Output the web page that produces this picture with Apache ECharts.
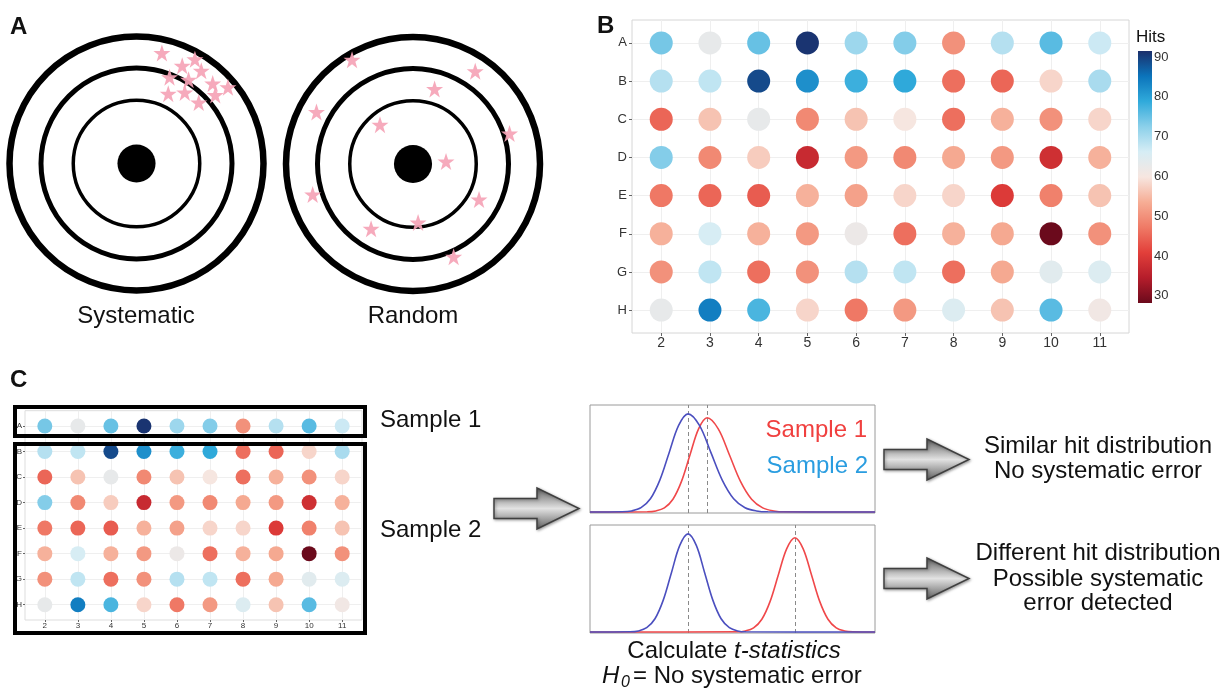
<!DOCTYPE html>
<html><head><meta charset="utf-8">
<script src="https://cdn.jsdelivr.net/npm/echarts@6/dist/echarts.min.js"></script>
<style>html,body{margin:0;padding:0;background:#fff}#c{width:1223px;height:691px}</style>
</head><body><div id="c"></div>
<script>
// ---------- DATA ----------
const plateRows = ['A','B','C','D','E','F','G','H'];
const plateCols = [2,3,4,5,6,7,8,9,10,11];
const hitsA = [74,63,75,91,71,73,50,69,76,67];
const hitsB = [69,68,89,82,78,79,46,45,58,70];
const hitsC = [45,56,63,49,56,60,46,54,50,58];
const hitsD = [73,49,57,37,51,49,53,51,38,54];
const hitsE = [47,45,44,54,52,58,58,40,48,56];
const hitsF = [54,66,54,51,62,46,54,53,28.2,50];
const hitsG = [50,68,46,50,69,68,46,53,64,65];
const hitsH = [63,84,77,58,47,51,65,56,76,61];
const colorbarTicks = [30,40,50,60,70,80,90];
const hitsMin = 28.2, hitsMax = 91.5;
const hitColors = ['#6b0a1c','#b51d2b','#e23f3a','#ef7a66','#f6ad95','#f7e6e0','#d6edf5','#8bd0ea','#30aadb','#0b74bb','#1b2f6b'];

// target (relative units: outer ring = 1)
const ringRadii = [1.0, 0.752, 0.498];
const bullseyeRadius = 0.15;
const systematicStars = [[0.20,0.87],[0.46,0.82],[0.36,0.77],[0.51,0.73],[0.26,0.68],[0.41,0.66],[0.60,0.63],[0.72,0.60],[0.25,0.55],[0.38,0.56],[0.62,0.54],[0.49,0.48]];
const randomStars = [[-0.48,0.82],[0.49,0.73],[0.17,0.59],[-0.76,0.41],[-0.26,0.31],[0.76,0.24],[0.26,0.02],[-0.79,-0.24],[0.52,-0.28],[0.04,-0.46],[-0.33,-0.51],[0.32,-0.73]];

// distribution curves (x: 0-100 across panel, y: density)
const topSample2 = [[0,0],[11.3,0.002],[14.6,0.011],[17.9,0.044],[21.2,0.135],[24.5,0.325],[27.8,0.607],[31.1,0.882],[34.4,1.0],[38.4,0.882],[42.4,0.607],[46.4,0.325],[50.4,0.135],[54.4,0.044],[58.4,0.011],[62.4,0.002],[100,0]];
const topSample1 = [[0,0],[20.1,0.002],[23.1,0.011],[26.1,0.042],[29.1,0.130],[32.1,0.312],[35.1,0.583],[38.1,0.847],[41.1,0.96],[45.0,0.847],[48.9,0.583],[52.8,0.312],[56.7,0.130],[60.6,0.042],[64.5,0.011],[68.4,0.002],[100,0]];
const bottomSample2 = [[0,0],[14.1,0.002],[17.0,0.011],[19.9,0.044],[22.8,0.135],[25.7,0.325],[28.6,0.607],[31.5,0.882],[34.4,1.0],[37.3,0.882],[40.2,0.607],[43.1,0.325],[46.0,0.135],[48.9,0.044],[51.8,0.011],[54.7,0.002],[100,0]];
const bottomSample1 = [[0,0],[51.6,0.002],[54.5,0.011],[57.4,0.042],[60.3,0.130],[63.2,0.312],[66.1,0.583],[69.0,0.847],[71.9,0.96],[74.8,0.847],[77.7,0.583],[80.6,0.312],[83.5,0.130],[86.4,0.042],[89.3,0.011],[92.2,0.002],[100,0]];
const topPeaks = [41.1, 34.4];
const bottomPeaks = [71.9, 34.4];

// ---------- BUILD ----------
const FONT = '"Liberation Sans", Arial, Helvetica, sans-serif';
const hitsRows = [hitsA,hitsB,hitsC,hitsD,hitsE,hitsF,hitsG,hitsH];
const plateData = [];
hitsRows.forEach((row, r) => row.forEach((v, c) => plateData.push([plateCols[c], r, v])));
const rowIdx = plateRows.map((_, i) => i);

const chart = echarts.init(document.getElementById('c'), null, {renderer: 'canvas'});

const ringWidths = [6.5, 5, 3.5];
function ringRender(params, api) {
  const c = api.coord([0, 0]);
  const e = api.coord([api.value(0), 0]);
  const r = e[0] - c[0];
  const isDot = api.value(1) === 1;
  return {
    type: 'circle',
    shape: {cx: c[0], cy: c[1], r: r},
    style: isDot ? {fill: '#000', stroke: null} : {fill: 'none', stroke: '#000', lineWidth: ringWidths[params.dataIndex]}
  };
}
const ringData = ringRadii.map(r => [r, 0]).concat([[bullseyeRadius, 1]]);
const starPath = 'path://M50 2 L61.8 36.2 L97.6 36.2 L68.6 57.3 L79.4 91.5 L50 70.3 L20.6 91.5 L31.4 57.3 L2.4 36.2 L38.2 36.2 Z';

function plateXAxis(grid, fs, tl, mg) {
  return {gridIndex: grid, type: 'value', min: 1.4, max: 11.6,
    axisLine: {show: false, onZero: false}, splitLine: {show: false},
    axisTick: {show: true, length: tl, lineStyle: {color: '#666'}, customValues: plateCols},
    axisLabel: {customValues: plateCols, margin: mg, fontSize: fs, color: '#333', fontFamily: FONT}};
}
function plateYAxis(grid, fs, tl, mg) {
  return {gridIndex: grid, type: 'value', min: -0.6, max: 7.6, inverse: true,
    axisLine: {show: false, onZero: false}, splitLine: {show: false},
    axisTick: {show: true, length: tl, lineStyle: {color: '#666'}, customValues: rowIdx},
    axisLabel: {customValues: rowIdx, margin: mg, fontSize: fs, color: '#333', fontFamily: FONT,
      formatter: v => plateRows[Math.round(v)]}};
}
function gridLineSeries(ax) {
  return {type: 'scatter', xAxisIndex: ax, yAxisIndex: ax, data: plateData, symbolSize: 0, silent: true, z: 1,
    markLine: {silent: true, z: 1, symbol: ['none','none'], label: {show: false}, animation: false,
      lineStyle: {color: '#efefef', width: 1, type: 'solid'},
      data: plateCols.map(c => ({xAxis: c})).concat(rowIdx.map(r => ({yAxis: r})))}};
}
function curveSeries(ax, data, color, peak) {
  return {type: 'line', xAxisIndex: ax, yAxisIndex: ax, data: data, smooth: 0.35, showSymbol: false, silent: true,
    lineStyle: {color: color, width: 1.6}, z: 3,
    markLine: {silent: true, z: 2, symbol: ['none','none'], label: {show: false}, animation: false,
      lineStyle: {color: '#8a8a8a', width: 1, type: [4, 3]}, data: [{xAxis: peak}]}};
}

function arrowPoints(x0, yc) {
  const L = 85, hl = 42, hh = 20.5, sh = 10;
  return [[x0, yc - sh], [x0 + L - hl, yc - sh], [x0 + L - hl, yc - hh], [x0 + L, yc], [x0 + L - hl, yc + hh], [x0 + L - hl, yc + sh], [x0, yc + sh]];
}
function arrow(x0, yc) {
  return {type: 'polygon', z: 100, shape: {points: arrowPoints(x0, yc)},
    style: {fill: new echarts.graphic.LinearGradient(0, 0, 0, 1, [{offset: 0, color: '#5f5f5f'}, {offset: 0.5, color: '#e2e2e2'}, {offset: 1, color: '#5f5f5f'}]),
      stroke: '#3f3f3f', lineWidth: 1.5, shadowBlur: 3, shadowColor: 'rgba(0,0,0,0.35)', shadowOffsetX: 1, shadowOffsetY: 1}};
}
function txt(text, x, y, opts) {
  return Object.assign({type: 'text', z: 100, style: Object.assign({text: text, x: x, y: y, fill: '#111', font: '24px ' + FONT, align: 'center', verticalAlign: 'middle'}, opts || {})});
}

const option = {
  backgroundColor: '#fff',
  animation: false,
  grid: [
    {left: 3.15, top: 30.15, width: 266.7, height: 266.7},
    {left: 279.65, top: 30.65, width: 266.7, height: 266.7},
    {left: 632, top: 20, width: 497, height: 313, show: true, borderColor: '#d6d6d6', borderWidth: 1, backgroundColor: '#fff'},
    {left: 25, top: 410.7, width: 337, height: 209.3, show: true, borderColor: '#dddddd', borderWidth: 1, backgroundColor: '#fff'},
    {left: 590, top: 405, width: 285, height: 108, show: true, borderColor: '#9a9a9a', borderWidth: 1},
    {left: 590, top: 525, width: 285, height: 108, show: true, borderColor: '#9a9a9a', borderWidth: 1},
    {left: 1138, top: 51, width: 14, height: 252, show: true, borderWidth: 0,
      backgroundColor: new echarts.graphic.LinearGradient(0, 1, 0, 0, hitColors.map((c, i) => ({offset: i / (hitColors.length - 1), color: c})))}
  ],
  xAxis: [
    {gridIndex: 0, type: 'value', min: -1.05, max: 1.05, show: false},
    {gridIndex: 1, type: 'value', min: -1.05, max: 1.05, show: false},
    plateXAxis(2, 14, 3, 3),
    plateXAxis(3, 8, 2, 2),
    {gridIndex: 4, type: 'value', min: 0, max: 100, show: false},
    {gridIndex: 5, type: 'value', min: 0, max: 100, show: false},
    {gridIndex: 6, type: 'value', min: 0, max: 1, show: false}
  ],
  yAxis: [
    {gridIndex: 0, type: 'value', min: -1.05, max: 1.05, show: false},
    {gridIndex: 1, type: 'value', min: -1.05, max: 1.05, show: false},
    plateYAxis(2, 13, 3, 5),
    plateYAxis(3, 8, 2, 3),
    {gridIndex: 4, type: 'value', min: -0.01, max: 1.09, show: false},
    {gridIndex: 5, type: 'value', min: -0.01, max: 1.09, show: false},
    {gridIndex: 6, type: 'value', min: hitsMin, max: hitsMax, position: 'right',
      axisLine: {show: false}, splitLine: {show: false},
      axisTick: {show: true, inside: true, length: 3, lineStyle: {color: 'rgba(255,255,255,0.8)'}, customValues: colorbarTicks},
      axisLabel: {customValues: colorbarTicks, margin: 2, fontSize: 13, color: '#333', fontFamily: FONT}}
  ],
  visualMap: {type: 'continuous', show: false, min: hitsMin, max: hitsMax, dimension: 2, seriesIndex: [5, 7], inRange: {color: hitColors}},
  series: [
    {type: 'custom', xAxisIndex: 0, yAxisIndex: 0, data: ringData, renderItem: ringRender, silent: true, z: 2},
    {type: 'custom', xAxisIndex: 1, yAxisIndex: 1, data: ringData, renderItem: ringRender, silent: true, z: 2},
    {type: 'scatter', xAxisIndex: 0, yAxisIndex: 0, data: systematicStars, symbol: starPath, symbolSize: 17, itemStyle: {color: '#f5a3b6', opacity: 0.92}, z: 3},
    {type: 'scatter', xAxisIndex: 1, yAxisIndex: 1, data: randomStars, symbol: starPath, symbolSize: 17, itemStyle: {color: '#f5a3b6', opacity: 0.92}, z: 3},
    gridLineSeries(2),
    {type: 'scatter', xAxisIndex: 2, yAxisIndex: 2, data: plateData, symbolSize: 23, itemStyle: {opacity: 1}, z: 5},
    gridLineSeries(3),
    {type: 'scatter', xAxisIndex: 3, yAxisIndex: 3, data: plateData, symbolSize: 15, itemStyle: {opacity: 1}, z: 5},
    curveSeries(4, topSample1, '#f0484a', topPeaks[0]),
    curveSeries(4, topSample2, '#4b4fbf', topPeaks[1]),
    curveSeries(5, bottomSample1, '#f0484a', bottomPeaks[0]),
    curveSeries(5, bottomSample2, '#4b4fbf', bottomPeaks[1])
  ],
  graphic: [
    txt('A', 10, 27, {font: 'bold 24px ' + FONT, align: 'left'}),
    txt('B', 597, 26, {font: 'bold 24px ' + FONT, align: 'left'}),
    txt('C', 10, 380, {font: 'bold 24px ' + FONT, align: 'left'}),
    txt('Systematic', 136, 316),
    txt('Random', 413, 316),
    txt('Hits', 1136, 37, {font: '17px ' + FONT, align: 'left'}),
    {type: 'rect', z: 90, shape: {x: 15, y: 407, width: 350, height: 29}, style: {fill: 'none', stroke: '#000', lineWidth: 4}},
    {type: 'rect', z: 90, shape: {x: 15, y: 444, width: 350, height: 189}, style: {fill: 'none', stroke: '#000', lineWidth: 4}},
    txt('Sample 1', 380, 420, {align: 'left'}),
    txt('Sample 2', 380, 530, {align: 'left'}),
    txt('Sample 1', 867, 430, {align: 'right', fill: '#f0403f'}),
    txt('Sample 2', 868, 466, {align: 'right', fill: '#2a9de0'}),
    arrow(494, 508.5),
    arrow(884, 459.5),
    arrow(884, 578.5),
    txt('Similar hit distribution', 1098, 446),
    txt('No systematic error', 1098, 471),
    txt('Different hit distribution', 1098, 553.5),
    txt('Possible systematic', 1098, 579.5),
    txt('error detected', 1098, 603.5),
    {type: 'text', z: 100, style: {text: '{n|Calculate }{i|t-statistics}', x: 734, y: 651.5, align: 'center', verticalAlign: 'middle',
      rich: {n: {font: '24px ' + FONT, fill: '#111'}, i: {font: 'italic 24px ' + FONT, fill: '#111'}}}},
    txt('H', 602, 676.5, {align: 'left', font: 'italic 24px ' + FONT}),
    txt('0', 621, 683, {align: 'left', font: 'italic 16px ' + FONT}),
    txt('= No systematic error', 633, 676.5, {align: 'left'})
  ]
};
chart.setOption(option);
</script>
</body></html>
